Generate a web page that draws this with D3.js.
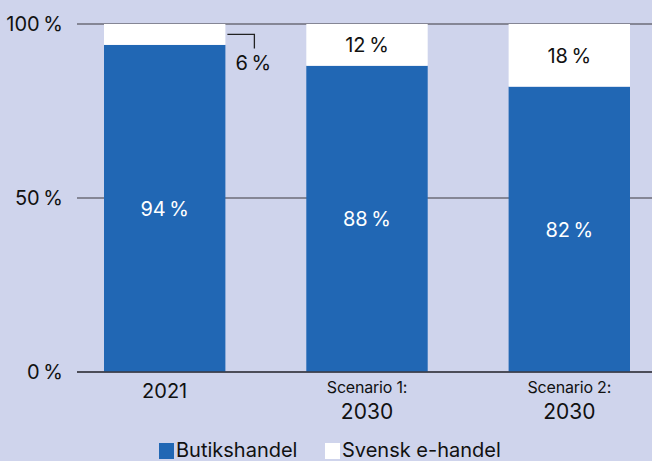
<!DOCTYPE html>
<html>
<head>
<meta charset="utf-8">
<script src="https://cdn.jsdelivr.net/npm/d3@7"></script>
<style>
  html, body { margin: 0; padding: 0; background: #cfd4ec; }
  svg { display: block; }
  text { font-family: Inter, "Liberation Sans", Arial, sans-serif; fill: #111; }
</style>
</head>
<body>
<svg id="chart" width="652" height="461"></svg>
<script>
// Share of retail sales: physical stores vs. Swedish e-commerce
const categories = ["2021", "Scenario 1:\n2030", "Scenario 2:\n2030"];
const butikshandel = [94, 88, 82];
const ehandel = [6, 12, 18];
const yTicks = [0, 50, 100];
const seriesNames = ["Butikshandel", "Svensk e-handel"];

const colors = { store: "#2167b4", online: "#ffffff", grid: "#6c6d78", bg: "#cfd4ec" };
const pct = v => v + "\u2009%";

const svg = d3.select("#chart");
const width = 652, height = 461;

const x = d3.scaleBand()
  .domain(categories)
  .range([104, 630])
  .paddingInner(0.4)
  .paddingOuter(0);

const y = d3.scaleLinear().domain([0, 100]).range([372, 24]);

// Gridlines and y labels
const gridG = svg.append("g");
gridG.selectAll("line")
  .data(yTicks)
  .join("line")
  .attr("x1", 77).attr("x2", width)
  .attr("y1", d => y(d)).attr("y2", d => y(d))
  .attr("stroke", colors.grid)
  .attr("stroke-width", 1.5);

gridG.selectAll("text")
  .data(yTicks)
  .join("text")
  .attr("x", 63)
  .attr("y", d => y(d))
  .attr("dy", "0.36em")
  .attr("text-anchor", "end")
  .style("font-size", "20px")
  .text(pct);

// Stacked bars
const rows = categories.map((c, i) => ({ cat: c, store: butikshandel[i], online: ehandel[i] }));
const barsG = svg.append("g");

barsG.selectAll("rect.store")
  .data(rows)
  .join("rect")
  .attr("class", "store")
  .attr("x", d => x(d.cat))
  .attr("width", x.bandwidth())
  .attr("y", d => y(d.store))
  .attr("height", d => y(0) - y(d.store))
  .attr("fill", colors.store);

barsG.selectAll("rect.online")
  .data(rows)
  .join("rect")
  .attr("class", "online")
  .attr("x", d => x(d.cat))
  .attr("width", x.bandwidth())
  .attr("y", d => y(d.store + d.online))
  .attr("height", d => y(d.store) - y(d.store + d.online))
  .attr("fill", colors.online);

// Zero baseline on top of the bars
svg.append("line")
  .attr("x1", 77).attr("x2", width)
  .attr("y1", y(0)).attr("y2", y(0))
  .attr("stroke", "#3a3a44")
  .attr("stroke-width", 1.5);

// Value labels inside the store segments
barsG.selectAll("text.storeLbl")
  .data(rows)
  .join("text")
  .attr("class", "storeLbl")
  .attr("x", d => x(d.cat) + x.bandwidth() / 2)
  .attr("y", d => (y(0) + y(d.store)) / 2)
  .attr("dy", "0.36em")
  .attr("text-anchor", "middle")
  .style("font-size", "20px")
  .style("fill", "#ffffff")
  .text(d => pct(d.store));

// Value labels for e-commerce: inside when tall enough, otherwise with a leader
rows.forEach(d => {
  const top = y(d.store + d.online), bot = y(d.store);
  const cx = x(d.cat) + x.bandwidth() / 2;
  if (bot - top > 30) {
    svg.append("text")
      .attr("x", cx)
      .attr("y", (top + bot) / 2)
      .attr("dy", "0.36em")
      .attr("text-anchor", "middle")
      .style("font-size", "20px")
      .text(pct(d.online));
  } else {
    const x0 = x(d.cat) + x.bandwidth() + 2;
    const ym = (top + bot) / 2;
    svg.append("path")
      .attr("d", `M${x0},${ym} H${x0 + 27} V${ym + 14}`)
      .attr("fill", "none")
      .attr("stroke", "#222")
      .attr("stroke-width", 1.3);
    svg.append("text")
      .attr("x", x0 + 26)
      .attr("y", ym + 28)
      .attr("dy", "0.36em")
      .attr("text-anchor", "middle")
      .style("font-size", "20px")
      .text(pct(d.online));
  }
});

// Category labels
const catG = svg.append("g");
categories.forEach(c => {
  const parts = c.split("\n");
  const cx = x(c) + x.bandwidth() / 2;
  if (parts.length === 1) {
    catG.append("text")
      .attr("x", cx).attr("y", 398)
      .attr("text-anchor", "middle")
      .style("font-size", "20px")
      .text(parts[0]);
  } else {
    catG.append("text")
      .attr("x", cx).attr("y", 393)
      .attr("text-anchor", "middle")
      .style("font-size", "16px")
      .style("letter-spacing", "-0.2px")
      .text(parts[0]);
    catG.append("text")
      .attr("x", cx).attr("y", 419)
      .attr("text-anchor", "middle")
      .style("font-size", "21px")
      .text(parts[1]);
  }
});

// Legend
const legend = [
  { name: seriesNames[0], color: colors.store, x: 159 },
  { name: seriesNames[1], color: colors.online, x: 325 }
];
const lg = svg.append("g");
legend.forEach(l => {
  lg.append("rect")
    .attr("x", l.x).attr("y", 443)
    .attr("width", 15).attr("height", 16)
    .attr("fill", l.color);
  lg.append("text")
    .attr("x", l.x + 17).attr("y", 457)
    .style("font-size", "20px")
    .text(l.name);
});
</script>
</body>
</html>
